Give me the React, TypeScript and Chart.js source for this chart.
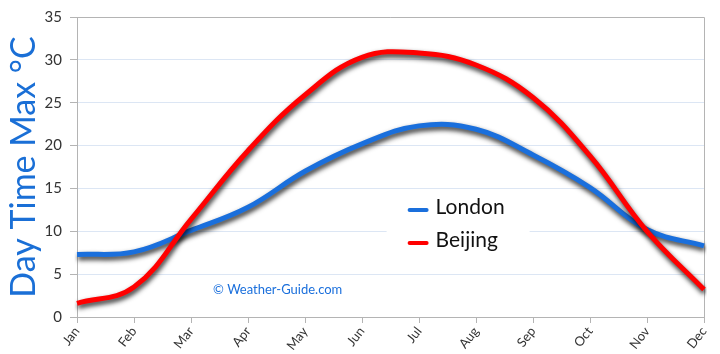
import React, { useEffect, useRef } from "react";
import { Chart, registerables } from "chart.js";

Chart.register(...registerables);

const months = ["Jan", "Feb", "Mar", "Apr", "May", "Jun", "Jul", "Aug", "Sep", "Oct", "Nov", "Dec"];
const london = [7.3, 7.6, 10.1, 12.8, 17.0, 20.2, 22.3, 21.9, 18.9, 15.1, 10.2, 8.3];
const beijing = [1.6, 3.5, 11.4, 19.4, 25.9, 30.3, 30.8, 29.4, 25.6, 18.8, 10.0, 3.2];
const seriesNames = ["London", "Beijing"];
const seriesColors = ["#1a6fdc", "#ff0000"];
const yTitle = "Day Time Max °C";
const watermark = "© Weather-Guide.com";

const FONT = "Lato, 'Noto Sans', sans-serif";

const shadowPlugin = {
  id: "lineShadow",
  beforeDatasetDraw(chart: any) {
    const ctx = chart.ctx;
    ctx.save();
    ctx.shadowColor = "rgba(0,0,0,0.85)";
    ctx.shadowBlur = 5;
    ctx.shadowOffsetX = 1;
    ctx.shadowOffsetY = 3;
  },
  afterDatasetDraw(chart: any) {
    chart.ctx.restore();
  },
};

const framePlugin = {
  id: "frameAndLegend",
  beforeDatasetsDraw(chart: any) {
    const { ctx, chartArea } = chart;
    ctx.save();
    ctx.strokeStyle = "#b4b4b4";
    ctx.lineWidth = 1;
    ctx.beginPath();
    ctx.moveTo(chartArea.left, chartArea.top + 0.5);
    ctx.lineTo(chartArea.right + 0.5, chartArea.top + 0.5);
    ctx.lineTo(chartArea.right + 0.5, chartArea.bottom);
    ctx.stroke();
    const x = chart.scales.x;
    const lx = x.getPixelForValue(5.8);
    ctx.fillStyle = "#ffffff";
    ctx.fillRect(lx - 21, 192, 143, 66);
    ctx.restore();
  },
  afterDraw(chart: any) {
    const { ctx } = chart;
    const x = chart.scales.x;
    const lx = x.getPixelForValue(5.8);
    ctx.save();
    const rows = [207, 240];
    rows.forEach((yy, i) => {
      ctx.strokeStyle = seriesColors[i];
      ctx.lineWidth = 4;
      ctx.lineCap = "round";
      ctx.beginPath();
      ctx.moveTo(lx + 2, yy + 3);
      ctx.lineTo(lx + 19, yy + 3);
      ctx.stroke();
      ctx.fillStyle = "#111";
      ctx.font = `21px ${FONT}`;
      ctx.textBaseline = "middle";
      ctx.textAlign = "left";
      ctx.fillText(seriesNames[i], lx + 28, yy);
    });
    ctx.fillStyle = "#1a6fdc";
    ctx.font = `13px ${FONT}`;
    ctx.textAlign = "center";
    ctx.textBaseline = "middle";
    ctx.fillText(watermark, x.getPixelForValue(3.52), 290);
    ctx.restore();
  },
};

export default function App() {
  const ref = useRef<HTMLCanvasElement>(null);
  useEffect(() => {
    document.body.style.margin = "0";
    const chart = new Chart(ref.current!, {
      type: "line",
      data: {
        labels: months,
        datasets: [
          {
            label: seriesNames[0],
            data: london,
            borderColor: seriesColors[0],
            borderWidth: 5,
            pointRadius: 0,
            tension: 0.4,
            fill: false,
            order: 2,
          },
          {
            label: seriesNames[1],
            data: beijing,
            borderColor: seriesColors[1],
            borderWidth: 5,
            pointRadius: 0,
            tension: 0.4,
            fill: false,
            order: 1,
          },
        ],
      },
      options: {
        animation: false,
        responsive: false,
        layout: { padding: { top: 17, right: 16, left: 0, bottom: 0 } },
        plugins: { legend: { display: false }, tooltip: { enabled: false } },
        scales: {
          x: {
            offset: false,
            grid: { drawOnChartArea: false, tickColor: "#b4b4b4", tickLength: 6 },
            border: { color: "#b4b4b4" },
            ticks: {
              color: "#333",
              font: { family: FONT, size: 13 },
              minRotation: 52,
              maxRotation: 52,
              padding: 1,
            },
            afterFit(scale: any) {
              scale.height = 37;
            },
          },
          y: {
            min: 0,
            max: 35,
            ticks: { stepSize: 5, color: "#333", font: { family: FONT, size: 15 }, padding: 8 },
            grid: { color: "#dce6f4", tickColor: "#b4b4b4", tickLength: 7 },
            border: { color: "#b4b4b4" },
            title: {
              display: true,
              text: yTitle,
              color: "#1a6fd6",
              font: { family: FONT, size: 34 },
              padding: { top: 4, bottom: 0 },
            },
            afterFit(scale: any) {
              scale.width = 77;
            },
          },
        },
      },
      plugins: [shadowPlugin, framePlugin],
    });
    return () => chart.destroy();
  }, []);
  return (
    <div style={{ width: 720, height: 354 }}>
      <canvas ref={ref} width={720} height={354} style={{ display: "block" }} />
    </div>
  );
}
